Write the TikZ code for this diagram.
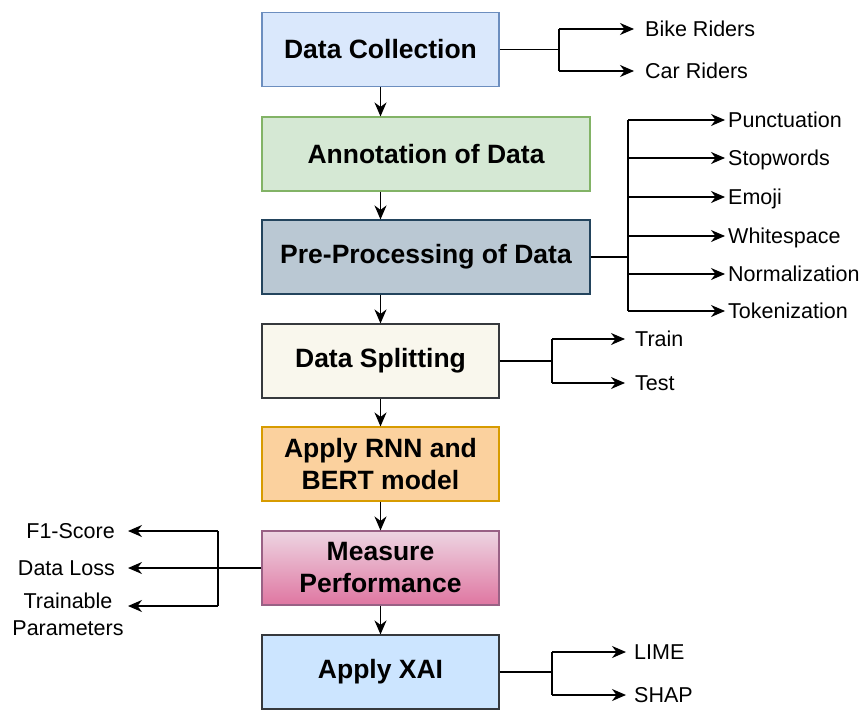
\documentclass[tikz,border=0pt]{standalone}
\usepackage{fontspec}
\setmainfont{Liberation Sans}
\usetikzlibrary{arrows.meta}

\definecolor{dcfill}{HTML}{DAE8FC}\definecolor{dcline}{HTML}{6C8EBF}
\definecolor{anfill}{HTML}{D5E8D4}\definecolor{anline}{HTML}{82B366}
\definecolor{ppfill}{HTML}{BAC8D3}\definecolor{ppline}{HTML}{23445D}
\definecolor{dsfill}{HTML}{F9F7ED}\definecolor{dsline}{HTML}{36393D}
\definecolor{rnfill}{HTML}{FBD19E}\definecolor{rnline}{HTML}{D79B00}
\definecolor{mptop}{HTML}{EDD5E2}\definecolor{mpbot}{HTML}{DF76A1}\definecolor{mpline}{HTML}{996185}
\definecolor{xafill}{HTML}{CCE5FF}\definecolor{xaline}{HTML}{36393D}

\tikzset{
  stage/.style={draw, line width=1.1pt, align=center, inner sep=0pt,
    minimum height=74pt,
    font=\fontsize{26.5}{32}\selectfont\bfseries},
  narrow/.style={minimum width=237pt},
  wide/.style={minimum width=328pt},
  lbl/.style={inner ysep=0pt, text height=15.5pt, text depth=0pt,
    font=\fontsize{21.5}{27}\selectfont},
  rlbl/.style={lbl, anchor=west},
  llbl/.style={lbl, anchor=east},
  link/.style={line width=1.5pt},
  arr/.style={link, -{Stealth[length=14pt,width=12pt,inset=4.5pt]}}
}

\begin{document}
\begin{tikzpicture}[x=1pt, y=-1pt]
\useasboundingbox (0,0) rectangle (866,714);

% main pipeline
\node[stage, narrow, fill=dcfill, draw=dcline] (dc) at (380.5,49.5) {Data Collection};
\node[stage, wide, fill=anfill, draw=anline] (an) at (426,154) {Annotation of Data};
\node[stage, wide, fill=ppfill, draw=ppline] (pp) at (426,257) {Pre-Processing of Data};
\node[stage, narrow, fill=dsfill, draw=dsline] (ds) at (380.5,361) {Data Splitting};
\node[stage, narrow, fill=rnfill, draw=rnline] (rn) at (380.5,464) {Apply RNN and\\BERT model};
\node[stage, narrow, top color=mptop, bottom color=mpbot, draw=mpline] (mp) at (380.5,568) {Measure\\Performance};
\node[stage, narrow, fill=xafill, draw=xaline] (xa) at (380.5,672) {Apply XAI};

\draw[arr] (dc.south) -- (an.north -| dc.south);
\draw[arr] (an.south -| dc.south) -- (pp.north -| dc.south);
\draw[arr] (pp.south -| dc.south) -- (ds.north);
\draw[arr] (ds.south) -- (rn.north);
\draw[arr] (rn.south) -- (mp.north);
\draw[arr] (mp.south) -- (xa.north);

% data collection branch
\node[rlbl, inner xsep=11pt] (bike) at (634,29) {Bike Riders};
\node[rlbl, inner xsep=11pt] (car) at (634,71) {Car Riders};
\coordinate (jdc) at (559,49.5);
\draw[link] (dc.east) -- (jdc);
\draw[link] (jdc |- bike) -- (jdc |- car);
\draw[arr] (jdc |- bike) -- (bike.west);
\draw[arr] (jdc |- car) -- (car.west);

% pre-processing branch
\node[rlbl, inner xsep=3pt] (p1) at (725,120) {Punctuation};
\node[rlbl, inner xsep=3pt] (p2) at (725,158) {Stopwords};
\node[rlbl, inner xsep=3pt] (p3) at (725,197) {Emoji};
\node[rlbl, inner xsep=3pt] (p4) at (725,236) {Whitespace};
\node[rlbl, inner xsep=3pt] (p5) at (725,274) {Normalization};
\node[rlbl, inner xsep=3pt] (p6) at (725,311) {Tokenization};
\coordinate (jpp) at (628,257);
\draw[link] (pp.east) -- (jpp);
\draw[link] (jpp |- p1) -- (jpp |- p6);
\foreach \n in {p1,p2,p3,p4,p5,p6}
  \draw[arr] (jpp |- \n) -- (\n.west);

% data splitting branch
\node[rlbl, inner xsep=10pt] (tr) at (625,339) {Train};
\node[rlbl, inner xsep=10pt] (te) at (625,383) {Test};
\coordinate (jds) at (552,361);
\draw[link] (ds.east) -- (jds);
\draw[link] (jds |- tr) -- (jds |- te);
\draw[arr] (jds |- tr) -- (tr.west);
\draw[arr] (jds |- te) -- (te.west);

% measure performance branch
\node[llbl, inner xsep=13pt] (f1) at (128,531) {F1-Score};
\node[llbl, inner xsep=13pt] (dl) at (128,568) {Data Loss};
\node[lbl, align=center, text height=, text depth=, font=\fontsize{21.5}{27}\selectfont] (tp) at (68,614) {Trainable\\Parameters};
\coordinate (tpin) at (128,606);
\coordinate (jmp) at (218,568);
\draw[link] (mp.west) -- (jmp);
\draw[link] (jmp |- f1) -- (jmp |- tpin);
\draw[arr] (jmp |- f1) -- (f1.east);
\draw[arr] (jmp |- dl) -- (dl.east);
\draw[arr] (jmp |- tpin) -- (tpin);

% explainability branch
\node[rlbl, inner xsep=8pt] (li) at (626,652) {LIME};
\node[rlbl, inner xsep=8pt] (sh) at (626,695) {SHAP};
\coordinate (jxa) at (552,672);
\draw[link] (xa.east) -- (jxa);
\draw[link] (jxa |- li) -- (jxa |- sh);
\draw[arr] (jxa |- li) -- (li.west);
\draw[arr] (jxa |- sh) -- (sh.west);
\end{tikzpicture}
\end{document}
